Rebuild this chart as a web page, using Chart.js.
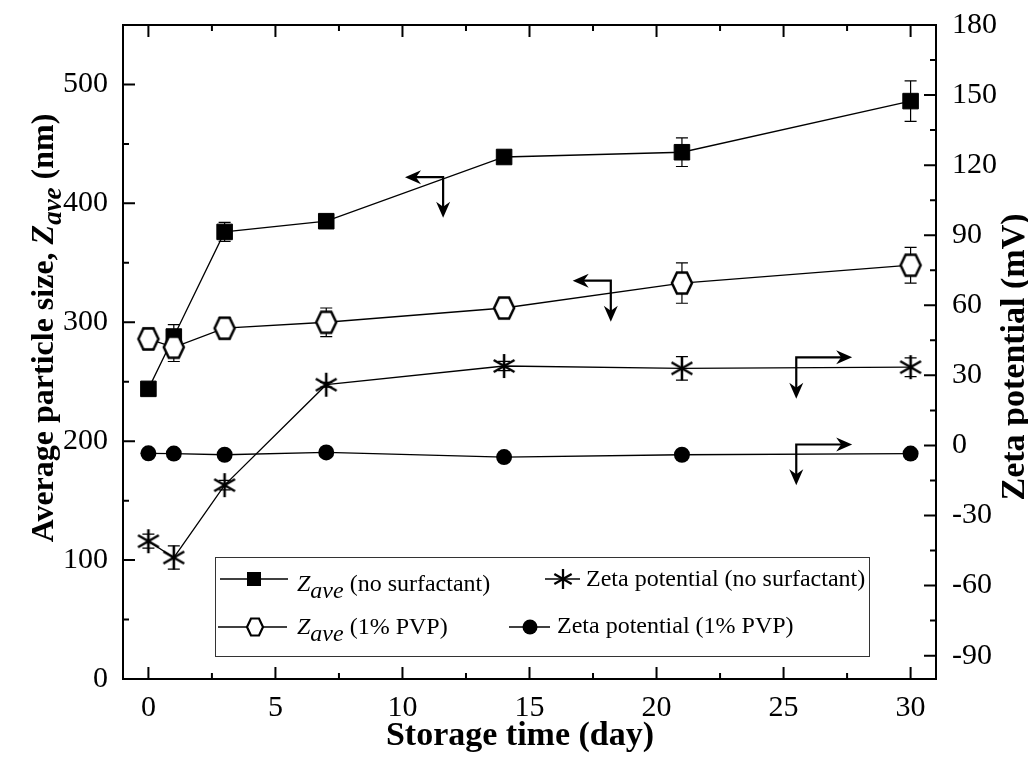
<!DOCTYPE html>
<html>
<head>
<meta charset="utf-8">
<script src="https://cdn.jsdelivr.net/npm/chart.js@4.4.0/dist/chart.umd.min.js"></script>
<style>
html, body { margin: 0; padding: 0; background: #fff; }
#wrap { width: 1028px; height: 763px; }
</style>
</head>
<body>
<div id="wrap"><canvas id="chart" width="1028" height="763"></canvas></div>
<script>
// storage days
var days = [0, 1, 3, 7, 14, 21, 30];
// Z_ave, nm (left axis)
var zaveNoSurf = [244, 288, 376, 385, 439, 443, 486];
var zaveNoSurfErr = [0, 10, 8, 3, 3, 12, 17];
var zavePvp = [286, 279, 295, 300, 312, 333, 348];
var zavePvpErr = [9, 12, 9, 12, 4, 17, 15];
// zeta potential, mV (right axis)
var zetaNoSurf = [-41, -48, -17, 26, 34, 33, 33.5];
var zetaNoSurfErr = [3, 5, 2, 1, 2, 5, 4];
var zetaPvp = [-3.4, -3.5, -4, -3, -5, -4, -3.5];
var zetaPvpErr = [0, 0, 0, 0, 0, 0, 0];

var xTicks = [0, 5, 10, 15, 20, 25, 30];
var leftTicks = [0, 100, 200, 300, 400, 500];
var rightTicks = [-90, -60, -30, 0, 30, 60, 90, 120, 150, 180];

// arrows pointing at the axis of each series (data units)
var arrowX = [11.6, 18.2, 25.5, 25.5];
var arrowY = [422, 335, 37.7, 0.4];
var arrowAxis = ['y', 'y', 'y2', 'y2'];
var arrowEndX = [10.1, 16.7, 27.7, 27.7];
var arrowEndY = [388, 300.5, 20, -17];

var SERIF = "'Liberation Serif', 'Times New Roman', serif";

function drawHex(g, cx, cy, rx, ry, lw) {
  g.save();
  g.beginPath();
  g.moveTo(cx - rx, cy);
  g.lineTo(cx - rx / 2, cy - ry);
  g.lineTo(cx + rx / 2, cy - ry);
  g.lineTo(cx + rx, cy);
  g.lineTo(cx + rx / 2, cy + ry);
  g.lineTo(cx - rx / 2, cy + ry);
  g.closePath();
  g.fillStyle = '#fff';
  g.fill();
  g.lineWidth = lw;
  g.strokeStyle = '#000';
  g.stroke();
  g.restore();
}

function drawAsterisk(g, cx, cy, r, lw) {
  g.save();
  g.beginPath();
  for (var i = 0; i < 3; i++) {
    var a = Math.PI / 2 + i * Math.PI / 3;
    g.moveTo(cx + r * Math.cos(a), cy - r * Math.sin(a));
    g.lineTo(cx - r * Math.cos(a), cy + r * Math.sin(a));
  }
  g.lineWidth = lw;
  g.strokeStyle = '#000';
  g.stroke();
  g.restore();
}

function makeCanvas(size, fn) {
  var c = document.createElement('canvas');
  c.width = size; c.height = size;
  fn(c.getContext('2d'), size / 2);
  return c;
}

var hexImg = makeCanvas(28, function (g, m) { drawHex(g, m, m, 10, 10.5, 2.5); });
var starImg = makeCanvas(30, function (g, m) { drawAsterisk(g, m, m, 12, 2.5); });

var errorBars = {
  id: 'errorBars',
  beforeDatasetsDraw: function (chart) {
    var ctx = chart.ctx;
    ctx.save();
    ctx.strokeStyle = '#000';
    ctx.lineWidth = 1.2;
    chart.data.datasets.forEach(function (ds, i) {
      if (!ds.errors) return;
      var ys = chart.scales[ds.yAxisID];
      var meta = chart.getDatasetMeta(i);
      meta.data.forEach(function (pt, j) {
        var e = ds.errors[j];
        if (!e) return;
        var v = ds.data[j].y;
        var y1 = ys.getPixelForValue(v + e), y2 = ys.getPixelForValue(v - e);
        ctx.beginPath();
        ctx.moveTo(pt.x, y1); ctx.lineTo(pt.x, y2);
        ctx.moveTo(pt.x - 6, y1); ctx.lineTo(pt.x + 6, y1);
        ctx.moveTo(pt.x - 6, y2); ctx.lineTo(pt.x + 6, y2);
        ctx.stroke();
      });
    });
    ctx.restore();
  }
};

function richText(ctx, parts) {
  var w = 0;
  parts.forEach(function (p) { ctx.font = p.font; w += ctx.measureText(p.t).width; });
  return w;
}
function drawRich(ctx, parts, x, y) {
  parts.forEach(function (p) {
    ctx.font = p.font;
    ctx.fillText(p.t, x, y + (p.dy || 0));
    x += ctx.measureText(p.t).width;
  });
}

function arrowHead(ctx, x, y, dx, dy) {
  var len = 16, half = 7, notch = 11;
  var px = -dy, py = dx;
  ctx.beginPath();
  ctx.moveTo(x, y);
  ctx.lineTo(x - dx * len + px * half, y - dy * len + py * half);
  ctx.lineTo(x - dx * notch, y - dy * notch);
  ctx.lineTo(x - dx * len - px * half, y - dy * len - py * half);
  ctx.closePath();
  ctx.fill();
}

var decor = {
  id: 'decor',
  afterDraw: function (chart) {
    var ctx = chart.ctx;
    var ca = chart.chartArea;
    var sx = chart.scales.x, sy = chart.scales.y, sy2 = chart.scales.y2;
    ctx.save();
    ctx.strokeStyle = '#000';
    ctx.fillStyle = '#000';

    // frame
    ctx.lineWidth = 2;
    ctx.strokeRect(ca.left, ca.top, ca.right - ca.left, ca.bottom - ca.top);

    // inward ticks
    ctx.beginPath();
    var v, p, len;
    for (v = 0; v <= 30; v += 2.5) {
      p = sx.getPixelForValue(v);
      len = v % 5 === 0 ? 12 : 6;
      ctx.moveTo(p, ca.bottom); ctx.lineTo(p, ca.bottom - len);
      ctx.moveTo(p, ca.top); ctx.lineTo(p, ca.top + len);
    }
    for (v = 0; v <= 550; v += 50) {
      p = sy.getPixelForValue(v);
      len = v % 100 === 0 ? 12 : 6;
      ctx.moveTo(ca.left, p); ctx.lineTo(ca.left + len, p);
    }
    for (v = -90; v <= 180; v += 15) {
      p = sy2.getPixelForValue(v);
      len = v % 30 === 0 ? 12 : 6;
      ctx.moveTo(ca.right, p); ctx.lineTo(ca.right - len, p);
    }
    ctx.stroke();

    // axis titles
    var bold = 'bold 34px ' + SERIF;
    ctx.textBaseline = 'alphabetic';
    ctx.textAlign = 'left';
    ctx.font = bold;
    var t = 'Storage time (day)';
    var w = ctx.measureText(t).width;
    ctx.fillText(t, 520 - w / 2, 745);

    var lb = 'bold 32px ' + SERIF;
    var leftParts = [
      { t: 'Average particle size, ', font: lb },
      { t: 'Z', font: 'italic bold 32px ' + SERIF },
      { t: 'ave', font: 'italic bold 27px ' + SERIF, dy: 8 },
      { t: ' (nm)', font: lb }
    ];
    w = richText(ctx, leftParts);
    ctx.save();
    ctx.translate(53, 328);
    ctx.rotate(-Math.PI / 2);
    drawRich(ctx, leftParts, -w / 2, 0);
    ctx.restore();

    ctx.font = bold;
    t = 'Zeta potential (mV)';
    w = ctx.measureText(t).width;
    ctx.save();
    ctx.translate(1024, 357);
    ctx.rotate(-Math.PI / 2);
    ctx.fillText(t, -w / 2, 0);
    ctx.restore();

    // arrows
    ctx.lineWidth = 2.2;
    for (var i = 0; i < arrowX.length; i++) {
      var ys = chart.scales[arrowAxis[i]];
      var cx = sx.getPixelForValue(arrowX[i]), cy = ys.getPixelForValue(arrowY[i]);
      var hx = sx.getPixelForValue(arrowEndX[i]), vy = ys.getPixelForValue(arrowEndY[i]);
      var dir = hx < cx ? -1 : 1;
      ctx.beginPath();
      ctx.moveTo(hx - dir * 10, cy); ctx.lineTo(cx, cy); ctx.lineTo(cx, vy - 10);
      ctx.stroke();
      arrowHead(ctx, hx, cy, dir, 0);
      arrowHead(ctx, cx, vy, 0, 1);
    }

    // legend
    var L = ca.left + 92, T = ca.bottom - 122, R = ca.right - 67, B = ca.bottom - 23;
    ctx.lineWidth = 1;
    ctx.strokeStyle = '#333';
    ctx.strokeRect(L + 0.5, T + 0.5, R - L, B - T);
    ctx.strokeStyle = '#000';
    ctx.fillStyle = '#000';
    ctx.lineWidth = 1.3;
    var row1 = T + 22, row2 = T + 70;
    function seg(x1, x2, y) { ctx.beginPath(); ctx.moveTo(x1, y); ctx.lineTo(x2, y); ctx.stroke(); }
    seg(L + 5, L + 73, row1);
    ctx.fillRect(L + 32, row1 - 7, 14, 14);
    seg(L + 3, L + 72, row2);
    drawHex(ctx, L + 40, row2, 8, 8.5, 2.2);
    seg(L + 330, L + 365, row1);
    drawAsterisk(ctx, L + 348, row1, 10, 2.3);
    seg(L + 294, L + 335, row2);
    ctx.beginPath(); ctx.arc(L + 315, row2, 7.5, 0, Math.PI * 2); ctx.fill();

    var reg = '24px ' + SERIF, it = 'italic 24px ' + SERIF;
    drawRich(ctx, [{ t: 'Z', font: it }, { t: 'ave', font: it, dy: 7 }, { t: ' (no surfactant)', font: reg }], L + 82, row1 + 12);
    drawRich(ctx, [{ t: 'Z', font: it }, { t: 'ave', font: it, dy: 7 }, { t: ' (1% PVP)', font: reg }], L + 82, row2 + 7);
    ctx.font = reg;
    ctx.fillText('Zeta potential (no surfactant)', L + 371, row1 + 7);
    ctx.fillText('Zeta potential (1% PVP)', L + 342, row2 + 6);

    ctx.restore();
  }
};

function pts(ys) {
  return days.map(function (d, i) { return { x: d, y: ys[i] }; });
}

function noPad(s) {
  s.paddingTop = 0; s.paddingBottom = 0; s.paddingLeft = 0; s.paddingRight = 0;
}

var tickFont = { family: SERIF, size: 30 };

new Chart(document.getElementById('chart'), {
  type: 'line',
  data: {
    datasets: [
      {
        label: 'Zave (1% PVP)', data: pts(zavePvp), errors: zavePvpErr, yAxisID: 'y', order: 0,
        borderColor: '#000', borderWidth: 1.3, pointStyle: hexImg, tension: 0
      },
      {
        label: 'Zave (no surfactant)', data: pts(zaveNoSurf), errors: zaveNoSurfErr, yAxisID: 'y', order: 1,
        borderColor: '#000', borderWidth: 1.3, pointStyle: 'rect', pointRadius: 11,
        pointBackgroundColor: '#000', pointBorderColor: '#000', pointBorderWidth: 1, tension: 0
      },
      {
        label: 'Zeta potential (no surfactant)', data: pts(zetaNoSurf), errors: zetaNoSurfErr, yAxisID: 'y2', order: 2,
        borderColor: '#000', borderWidth: 1.3, pointStyle: starImg, tension: 0
      },
      {
        label: 'Zeta potential (1% PVP)', data: pts(zetaPvp), errors: zetaPvpErr, yAxisID: 'y2', order: 3,
        borderColor: '#000', borderWidth: 1.3, pointStyle: 'circle', pointRadius: 8,
        pointBackgroundColor: '#000', pointBorderColor: '#000', pointBorderWidth: 0, tension: 0
      }
    ]
  },
  options: {
    responsive: false,
    animation: false,
    devicePixelRatio: 1,
    layout: { padding: { top: 25, left: 0, right: 0, bottom: 0 } },
    plugins: { legend: { display: false }, tooltip: { enabled: false } },
    scales: {
      x: {
        type: 'linear', min: -1, max: 31,
        grid: { display: false, drawTicks: false }, border: { display: false },
        afterBuildTicks: function (s) { s.ticks = xTicks.map(function (v) { return { value: v }; }); },
        afterFit: function (s) { s.height = 84; noPad(s); },
        ticks: { font: tickFont, color: '#000', padding: 11, maxRotation: 0, autoSkip: false,
          callback: function (v) { return String(v); } }
      },
      y: {
        position: 'left', min: 0, max: 550,
        grid: { display: false, drawTicks: false }, border: { display: false },
        afterBuildTicks: function (s) { s.ticks = leftTicks.map(function (v) { return { value: v }; }); },
        afterFit: function (s) { s.width = 123; noPad(s); },
        ticks: { font: tickFont, color: '#000', padding: 15, autoSkip: false,
          callback: function (v) { return String(v); } }
      },
      y2: {
        position: 'right', min: -100, max: 180,
        grid: { display: false, drawTicks: false }, border: { display: false },
        afterBuildTicks: function (s) { s.ticks = rightTicks.map(function (v) { return { value: v }; }); },
        afterFit: function (s) { s.width = 92; noPad(s); },
        ticks: { font: tickFont, color: '#000', padding: 16, autoSkip: false,
          callback: function (v) { return String(v); } }
      }
    }
  },
  plugins: [errorBars, decor]
});
</script>
</body>
</html>
